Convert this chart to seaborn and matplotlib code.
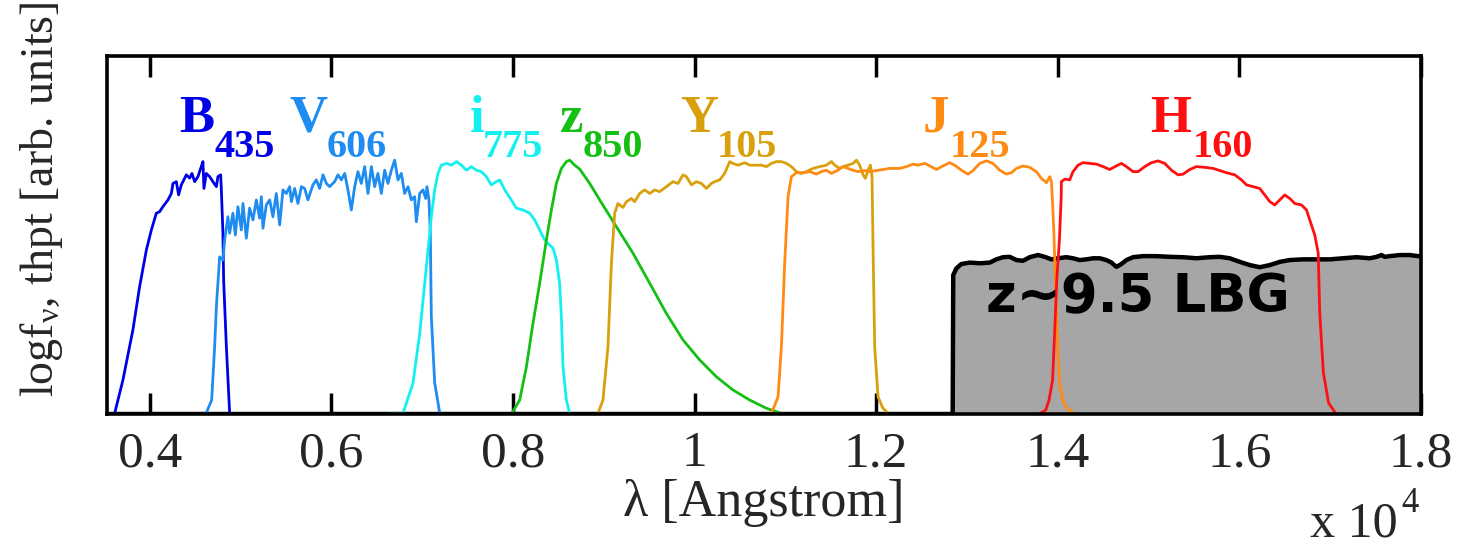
import matplotlib
matplotlib.use("Agg")
import matplotlib.pyplot as plt
import numpy as np
import pandas as pd
import seaborn as sns

# ---------------------------------------------------------------------------
# Filter throughput curves (wavelength in Angstrom, throughput in arb. units)
# ---------------------------------------------------------------------------
b435_wave = [3600, 3615, 3706, 3816, 3890, 3964, 4019, 4074, 4110, 4146, 4202, 4239,
             4257, 4294, 4319, 4349, 4404, 4441, 4466, 4496, 4532, 4569, 4587, 4598,
             4624, 4661, 4697, 4735, 4752, 4782, 4790, 4807, 4815, 4845, 4881, 4900]
b435_thpt = [0.0, 0.2, 9.5, 23.5, 35.6, 45.8, 51.4, 56.1, 56.5, 57.9, 59.8, 61.6,
             64.4, 64.9, 61.2, 64.0, 66.8, 65.9, 67.2, 64.9, 66.3, 69.1, 70.5, 63.0,
             67.2, 66.3, 64.9, 63.5, 66.3, 66.8, 62.6, 50.6, 37.4, 18.8, 0.3, 0.0]

v606_wave = [4600, 4624, 4683, 4716, 4735, 4771, 4807, 4826, 4862, 4881, 4917, 4944,
             4972, 5010, 5028, 5065, 5101, 5138, 5175, 5211, 5230, 5248, 5285, 5322,
             5358, 5395, 5432, 5468, 5505, 5542, 5561, 5597, 5633, 5671, 5707, 5743,
             5798, 5836, 5872, 5909, 5946, 5982, 6037, 6074, 6111, 6148, 6184, 6221,
             6258, 6294, 6331, 6368, 6404, 6442, 6478, 6514, 6552, 6588, 6624, 6662,
             6698, 6735, 6772, 6808, 6845, 6882, 6918, 6937, 6974, 7010, 7040, 7054,
             7076, 7091, 7102, 7139, 7194, 7220]
v606_thpt = [0.0, 0.3, 3.9, 18.8, 30.0, 43.9, 43.0, 48.6, 55.1, 50.5, 56.1, 50.0,
             57.9, 51.4, 58.8, 49.1, 57.5, 54.2, 59.8, 54.7, 60.7, 51.9, 58.4, 59.8,
             55.1, 61.6, 52.8, 62.6, 61.6, 63.5, 59.3, 63.0, 58.8, 63.5, 63.0, 59.8,
             64.0, 65.4, 63.0, 66.8, 64.4, 63.5, 64.9, 66.8, 65.4, 67.2, 62.6, 57.0,
             63.5, 67.7, 64.4, 69.1, 61.6, 69.1, 63.5, 67.2, 61.6, 68.1, 64.4, 68.1,
             70.9, 65.4, 67.2, 61.6, 63.5, 59.8, 60.7, 53.7, 61.6, 62.6, 60.2, 63.5,
             59.8, 50.6, 27.2, 8.7, 0.3, 0.0]

i775_wave = [6643, 6790, 6900, 6974, 7047, 7102, 7139, 7175, 7212, 7268, 7323, 7378,
             7433, 7488, 7543, 7598, 7653, 7708, 7763, 7818, 7855, 7910, 7983, 8038,
             8111, 8185, 8240, 8295, 8350, 8405, 8442, 8479, 8515, 8534, 8552, 8589,
             8625]
i775_thpt = [0.0, 0.2, 8.6, 22.5, 41.1, 55.1, 62.6, 67.2, 69.5, 70.0, 69.5, 70.5,
             69.5, 68.1, 69.1, 68.1, 67.7, 66.3, 64.0, 64.9, 65.4, 62.6, 59.8, 57.5,
             57.0, 56.1, 54.2, 51.4, 48.6, 47.2, 46.3, 43.0, 36.5, 27.2, 13.2, 3.9,
             0.2]

z850_wave = [7983, 8075, 8149, 8221, 8295, 8369, 8424, 8479, 8534, 8589, 8625, 8681,
             8736, 8846, 8956, 9140, 9323, 9507, 9690, 9873, 10057, 10241, 10424,
             10608, 10792, 10957]
z850_thpt = [0.0, 3.9, 13.2, 25.3, 36.5, 48.6, 57.0, 64.4, 68.6, 70.5, 70.9, 69.5,
             68.4, 64.4, 59.8, 52.3, 44.9, 36.5, 28.1, 20.7, 15.1, 10.4, 6.7,
             3.9, 1.6, 0.2]

y105_wave = [8937, 8992, 9047, 9085, 9121, 9157, 9212, 9250, 9305, 9341, 9396, 9451,
             9507, 9562, 9617, 9690, 9763, 9818, 9873, 9911, 9966, 10021, 10076, 10131,
             10186, 10222, 10277, 10332, 10388, 10424, 10479, 10553, 10608, 10663,
             10737, 10792, 10847, 10902, 10957, 11012, 11067, 11122, 11177, 11232,
             11305, 11379, 11452, 11508, 11544, 11599, 11635, 11690, 11746, 11783,
             11819, 11856, 11882, 11911, 11937, 11955, 11966, 11984, 12021, 12073,
             12131]
y105_thpt = [0.2, 3.9, 18.8, 42.1, 56.1, 58.8, 57.7, 59.3, 60.2, 59.3, 61.6, 62.6,
             61.6, 62.6, 62.1, 63.5, 64.9, 64.4, 66.8, 66.3, 64.0, 64.9, 64.4, 63.0,
             64.4, 64.9, 65.4, 67.2, 70.5, 70.0, 69.5, 70.2, 69.5, 69.5,
             69.5, 69.1, 70.0, 70.5, 70.5, 70.0, 69.1, 67.7, 67.2, 67.7,
             68.6, 69.1, 69.5, 70.5, 69.5, 68.6, 69.1, 69.5, 70.0, 70.9,
             69.5, 66.8, 65.8, 68.1, 69.5, 66.3, 46.7, 18.8, 4.8, 1.7,
             0.2]

j125_wave = [10847, 10920, 10957, 10993, 11030, 11067, 11122, 11195, 11269, 11342,
             11397, 11452, 11508, 11580, 11635, 11690, 11746, 11800, 11874, 11929,
             12003, 12076, 12150, 12205, 12260, 12334, 12406, 12461, 12535, 12590,
             12664, 12737, 12810, 12865, 12939, 13012, 13067, 13141, 13215, 13287,
             13361, 13435, 13490, 13545, 13618, 13691, 13765, 13820, 13875, 13912,
             13930, 13941, 13956, 13981, 14000, 14022, 14055, 14099, 14171]
j125_thpt = [0.2, 4.8, 18.8, 42.1, 60.7, 66.3, 67.4, 67.4, 67.7, 67.0,
             67.7, 68.1, 67.2, 68.1, 69.1, 68.6, 68.1, 67.7, 68.0, 67.7,
             68.0, 68.3, 68.6, 68.6, 68.6, 69.1, 69.8, 69.5, 70.0, 69.3,
             68.3, 69.3, 70.2, 69.5, 68.1, 67.0, 68.0, 70.0, 70.7, 70.0,
             68.1, 67.0, 67.4, 68.6, 69.3, 68.9, 67.7, 65.8, 64.6, 66.3,
             64.9, 59.8, 51.4, 31.8, 17.9, 8.1, 3.9, 1.7, 0.2]

h160_wave = [13808, 13868, 13904, 13943, 13967, 13989, 14018, 14038, 14040, 14077,
             14132, 14168, 14223, 14278, 14352, 14426, 14499, 14572, 14646, 14701,
             14756, 14829, 14884, 14958, 15032, 15105, 15178, 15252, 15325, 15380,
             15454, 15527, 15619, 15710, 15784, 15858, 15949, 16023, 16078, 16151,
             16224, 16279, 16335, 16390, 16445, 16500, 16555, 16610, 16684, 16739,
             16775, 16830, 16868, 16885, 16925, 16982, 17059]
h160_thpt = [0.2, 1.1, 3.9, 9.5, 23.5, 37.4, 48.6, 60.7, 64.9, 65.6,
             65.4, 67.7, 69.5, 70.2, 70.0, 69.8, 69.1, 68.3, 69.3, 70.0,
             69.1, 67.7, 67.7, 69.1, 70.2, 70.7, 70.0, 68.1, 66.8, 67.0,
             68.3, 69.1, 68.9, 68.6, 68.0, 67.4, 66.8, 65.4, 64.0, 63.5,
             63.0, 61.2, 59.3, 58.4, 59.8, 61.2, 60.2, 58.8, 58.4, 57.0,
             54.2, 50.0, 45.0, 28.2, 11.5, 3.1, 0.2]

# Model spectrum of a z~9.5 Lyman-break galaxy (log f_nu, arb. units)
lbg_wave = [3400, 12843, 12849, 12884, 12939, 13031, 13141, 13251, 13325, 13397,
            13471, 13545, 13618, 13691, 13783, 13857, 13930, 14003, 14095, 14168,
            14242, 14316, 14389, 14462, 14536, 14591, 14646, 14701, 14756, 14829,
            14939, 15087, 15233, 15380, 15527, 15674, 15784, 15894, 16004, 16114,
            16224, 16335, 16445, 16555, 16701, 16849, 16995, 17142, 17289, 17436,
            17510, 17565, 17601, 17656, 17766, 17876, 17968, 18200]
lbg_flux = [0.0, 0.0, 38.8, 40.7, 41.9, 42.3, 42.1, 42.3, 43.2, 43.8,
            43.9, 43.0, 42.8, 43.8, 44.4, 43.9, 43.2, 43.5, 43.8, 43.5,
            43.0, 43.2, 43.5, 43.5, 43.0, 42.3, 41.1, 41.9, 43.0, 43.8,
            44.1, 44.1, 43.9, 43.8, 43.5, 43.8, 43.9, 43.5, 42.5, 41.6,
            41.0, 41.6, 42.5, 43.0, 43.2, 43.2, 43.2, 43.5, 43.8, 43.5,
            43.9, 44.4, 43.9, 44.1, 44.4, 44.4, 44.1, 44.0]

band_letters = ["B", "V", "i", "z", "Y", "J", "H"]
band_numbers = ["435", "606", "775", "850", "105", "125", "160"]
band_colors = ["#0000e6", "#1e8cf0", "#14f0f0", "#14c014", "#d9a00e", "#ff8a14", "#ff1010"]

xtick_values = [4000, 6000, 8000, 10000, 12000, 14000, 16000, 18000]
xtick_labels = ["0.4", "0.6", "0.8", "1", "1.2", "1.4", "1.6", "1.8"]

curves = [
    (b435_wave, b435_thpt),
    (v606_wave, v606_thpt),
    (i775_wave, i775_thpt),
    (z850_wave, z850_thpt),
    (y105_wave, y105_thpt),
    (j125_wave, j125_thpt),
    (h160_wave, h160_thpt),
]

# Label anchor points (left edge / baseline) for each band name, in data units
letter_pos = [(4330, 78.8), (5542, 78.8), (7524, 78.8), (8515, 78.8),
              (9837, 78.8), (12509, 78.8), (15013, 78.8)]
number_pos = [(4716, 71.8), (5946, 71.8), (7667, 71.8), (8769, 71.8),
              (10241, 71.8), (12810, 71.8), (15487, 71.8)]

# ---------------------------------------------------------------------------
sns.set_style("ticks")
plt.rcParams["font.family"] = ["Liberation Serif", "DejaVu Serif"]
plt.rcParams["mathtext.fontset"] = "custom"
plt.rcParams["mathtext.rm"] = "Liberation Serif"
plt.rcParams["mathtext.it"] = "Liberation Serif:italic"
plt.rcParams["mathtext.bf"] = "Liberation Serif:bold"

fig = plt.figure(figsize=(14.57, 5.49), dpi=100)
ax = fig.add_axes([0.0734, 0.2459, 0.9019, 0.6521])

# LBG spectrum: grey fill with thick black outline
lbg = pd.DataFrame({"wave": lbg_wave, "flux": lbg_flux})
ax.fill_between(lbg["wave"], 0, lbg["flux"], color="#a6a6a6", lw=0, zorder=1)
sns.lineplot(data=lbg, x="wave", y="flux", color="black", lw=3.2,
             sort=False, estimator=None, ax=ax, zorder=2)

# Filter curves
for (w, t), col in zip(curves, band_colors):
    df = pd.DataFrame({"wave": w, "thpt": t})
    sns.lineplot(data=df, x="wave", y="thpt", color=col, lw=2.0,
                 sort=False, estimator=None, ax=ax, zorder=3)

# Band names
for letter, num, col, lp, npos in zip(band_letters, band_numbers, band_colors,
                                      letter_pos, number_pos):
    ax.text(lp[0], lp[1], letter, color=col, fontsize=38, fontweight="bold",
            ha="left", va="baseline", zorder=4)
    ax.text(npos[0], npos[1], num, color=col, fontsize=29, fontweight="bold",
            ha="left", va="baseline", zorder=4)

ax.text(14881, 32.7, "z~9.5 LBG", color="black", fontsize=38, fontweight="bold",
        family="DejaVu Sans", ha="center", va="center", zorder=4)

ax.set_xlim(3530, 18000)
ax.set_ylim(0, 100)
ax.set_xticks(xtick_values)
ax.set_xticklabels(xtick_labels)
ax.set_yticks([])
ax.tick_params(axis="x", direction="in", top=True, bottom=True, length=15,
               width=2.5, labelsize=37, pad=12, color="black")
for sp in ax.spines.values():
    sp.set_linewidth(2.6)
    sp.set_color("black")
    sp.set_zorder(5)

ax.set_xlabel("λ [Angstrom]", fontsize=37.5, labelpad=1)
ax.set_ylabel("logf$_{\\mathregular{ν}}$, thpt [arb. units]", fontsize=33)
ax.yaxis.set_label_coords(-0.032, 0.60)

fig.text(1310 / 1457, 0.022, "x 10", fontsize=36, ha="left", va="baseline")
fig.text(1401 / 1457, 1 - 512 / 549, "4", fontsize=25, ha="left", va="baseline")

fig.savefig("out.png", dpi=100)
